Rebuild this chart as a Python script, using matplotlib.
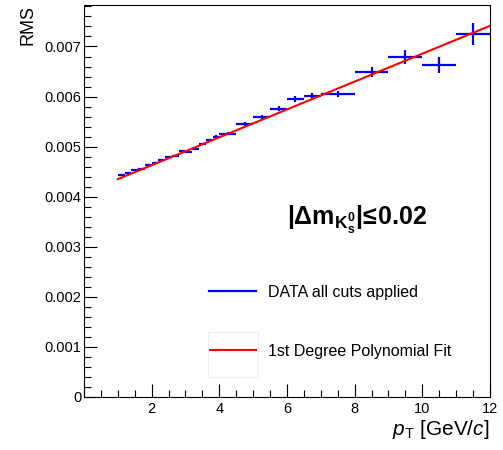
import numpy as np
import matplotlib
matplotlib.use('Agg')
import matplotlib.pyplot as plt
from matplotlib.ticker import MultipleLocator, FuncFormatter
from matplotlib.patches import Rectangle
from matplotlib.lines import Line2D

plt.rcParams['font.family'] = ['Liberation Sans', 'DejaVu Sans']
plt.rcParams['mathtext.fontset'] = 'custom'
plt.rcParams['mathtext.rm'] = 'Liberation Sans'
plt.rcParams['mathtext.it'] = 'Liberation Sans:italic'
plt.rcParams['mathtext.bf'] = 'Liberation Sans:bold'

# pT bins (GeV/c)
bin_lo = [1.0,1.2,1.4,1.6,1.8,2.0,2.2,2.4,2.6,2.8,3.0,3.2,3.4,3.6,3.8,
          4.0,4.5,5.0,5.5,6.0,6.5,7.0,8.0,9.0,10.0,11.0]
bin_hi = [1.2,1.4,1.6,1.8,2.0,2.2,2.4,2.6,2.8,3.0,3.2,3.4,3.6,3.8,4.0,
          4.5,5.0,5.5,6.0,6.5,7.0,8.0,9.0,10.0,11.0,12.0]
rms = [0.00444,0.00447,0.00453,0.00456,0.00463,0.00467,0.00474,0.00479,0.00481,
       0.00491,0.00490,0.00496,0.00505,0.00513,0.00520,
       0.00526,0.00546,0.00559,0.00576,0.00595,0.00601,
       0.00605,0.00650,0.00679,0.00663,0.00725]
rms_err = [0.00001,0.00001,0.00001,0.00001,0.00001,0.000012,0.000012,0.000014,0.000014,
           0.000016,0.000016,0.000018,0.00002,0.00002,0.000022,
           0.000027,0.00004,0.000047,0.000053,0.000067,0.000067,
           0.000057,0.0001,0.00014,0.00016,0.00022]
# 1st degree polynomial fit
fit_p0 = 0.004072
fit_p1 = 0.0002784
fit_range = [1.0, 12.0]
legend_labels = ['DATA all cuts applied', '1st Degree Polynomial Fit']

lo = np.array(bin_lo)
hi = np.array(bin_hi)
xc = (lo + hi) / 2
xe = (hi - lo) / 2

fig = plt.figure(figsize=(5.03, 4.50), dpi=100)
ax = fig.add_axes([0.167, 0.118, 0.807, 0.871])

ax.errorbar(xc, rms, xerr=xe, yerr=rms_err, fmt='none', ecolor='#0000ff',
            elinewidth=1.6, capsize=0)
xf = np.linspace(fit_range[0], fit_range[1], 50)
ax.plot(xf, fit_p0 + fit_p1 * xf, color='#ff0000', lw=1.5)

ax.set_xlim(0, 12)
ax.set_ylim(0, 0.00783)
ax.xaxis.set_major_locator(MultipleLocator(2))
ax.xaxis.set_minor_locator(MultipleLocator(0.5))
ax.yaxis.set_major_locator(MultipleLocator(0.001))
ax.yaxis.set_minor_locator(MultipleLocator(0.0002))
ax.xaxis.set_major_formatter(FuncFormatter(lambda v, p: '' if v == 0 else '%g' % v))
ax.yaxis.set_major_formatter(FuncFormatter(lambda v, p: '0' if abs(v) < 1e-12 else '%.3f' % v))
ax.tick_params(which='both', direction='in', top=False, right=False, labelsize=10.5)
ax.tick_params(which='major', length=9.5, width=0.8)
ax.tick_params(which='minor', length=5, width=0.8)
ax.tick_params(axis='x', pad=4)
ax.tick_params(axis='y', pad=2)
for s in ax.spines.values():
    s.set_linewidth(0.8)

ax.set_xlabel(r'$p_{\mathrm{T}}$ [GeV/$c$]', fontsize=15, loc='right', labelpad=1)
ax.set_ylabel('RMS', fontsize=13, loc='top', labelpad=6)

ax.text(0.672, 0.452, r'$\mathbf{|\Delta m_{K_{s}^{0}}|\!\leq\!0.02}$', transform=ax.transAxes,
        fontsize=18, ha='center', va='center')

handles = [Line2D([], [], color='#0000ff', lw=1.6), Line2D([], [], color='#ff0000', lw=1.5)]
leg = ax.legend(handles, legend_labels, loc='center left', bbox_to_anchor=(0.4155, 0.2844),
                bbox_transform=fig.transFigure, frameon=False, fontsize=11.5,
                handlelength=2.95, handletextpad=0.74, labelspacing=2.76,
                borderpad=0, borderaxespad=0)
fig.patches.append(Rectangle((208 / 503, 1 - 377 / 450), 50 / 503, 45 / 450,
                             transform=fig.transFigure, fill=False,
                             edgecolor='#eeeeee', lw=0.8))

fig.savefig('out.png', dpi=100)
